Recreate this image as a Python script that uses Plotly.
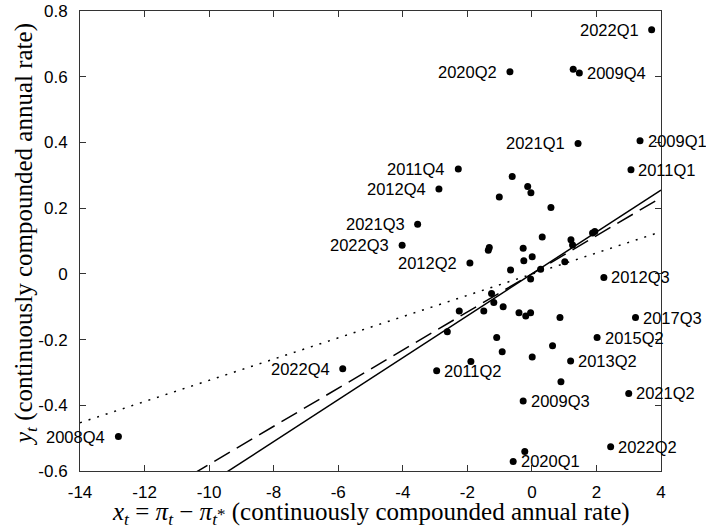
import plotly.graph_objects as go

# ---- data ----
x_vals = [3.71, -0.68, 1.28, 1.47, 1.43, 3.35, 3.07, -2.28, -2.88, -0.61,
          -0.13, -0.03, -1.01, 0.59, -3.54, 0.32, 1.21, 1.26, 1.88, 1.95,
          -4.02, -1.32, -1.35, -0.27, -1.92, -0.25, 0.01, -0.66, 0.27, 1.02,
          -0.04, 2.23, -1.25, -1.18, -2.25, -1.49, -0.89, -0.40, -0.19, -0.04,
          0.87, 3.21, -2.62, 2.02, -1.09, 0.64, -0.92, 0.01, 1.20, -1.89,
          -2.95, 0.90, 3.00, -0.27, 2.44, -0.22, -0.58, -5.86, -12.81]
y_vals = [0.743, 0.615, 0.623, 0.611, 0.397, 0.405, 0.317, 0.319, 0.258, 0.296,
          0.266, 0.247, 0.234, 0.202, 0.151, 0.112, 0.104, 0.088, 0.124, 0.129,
          0.087, 0.080, 0.072, 0.078, 0.033, 0.040, 0.052, 0.012, 0.014, 0.037,
          -0.016, -0.011, -0.060, -0.087, -0.113, -0.113, -0.100, -0.118, -0.128, -0.118,
          -0.133, -0.133, -0.176, -0.194, -0.194, -0.219, -0.237, -0.253, -0.265, -0.267,
          -0.295, -0.328, -0.364, -0.387, -0.526, -0.541, -0.571, -0.289, -0.495]
labels = ["2022Q1", "2020Q2", "", "2009Q4", "2021Q1", "2009Q1", "2011Q1", "2011Q4", "2012Q4", "",
          "", "", "", "", "2021Q3", "", "", "", "", "",
          "2022Q3", "", "", "", "2012Q2", "", "", "", "", "",
          "", "2012Q3", "", "", "", "", "", "", "", "",
          "", "2017Q3", "", "2015Q2", "", "", "", "", "2013Q2", "",
          "2011Q2", "", "2021Q2", "2009Q3", "2022Q2", "", "2020Q1", "2022Q4", "2008Q4"]
label_side = ["left", "left", "", "right", "left", "right", "right", "left", "left", "",
              "", "", "", "", "left", "", "", "", "", "",
              "left", "", "", "", "left", "", "", "", "", "",
              "", "right", "", "", "", "", "", "", "", "",
              "", "right", "", "right", "", "", "", "", "right", "",
              "right", "", "right", "right", "right", "", "right", "left", "left"]

# fitted lines: intercept, slope
line_names = ["solid", "dashed", "dotted"]
line_intercepts = [0.0, 0.0, -0.001]
line_slopes = [0.0638, 0.058, 0.0323]

x_ticks = [-14, -12, -10, -8, -6, -4, -2, 0, 2, 4]
x_ticklabels = ["-14", "-12", "-10", "-8", "-6", "-4", "-2", "0", "2", "4"]
y_ticks = [-0.6, -0.4, -0.2, 0, 0.2, 0.4, 0.6, 0.8]
y_ticklabels = ["-0.6", "-0.4", "-0.2", "0", "0.2", "0.4", "0.6", "0.8"]

x_title = ("<i>x</i><sub><i>t</i></sub> = <i>π</i><sub><i>t</i></sub> − "
           "<i>π</i><sub><i>t</i></sub><span style=\"font-size:17px\">*</span> "
           "(continuously compounded annual rate)")
y_title = "<i>y</i><sub><i>t</i></sub> (continuously compounded annual rate)"

x_range = [-14, 4]
y_range = [-0.6, 0.8]

fig = go.Figure()

dash_styles = {"solid": "solid", "dashed": "18px,8px", "dotted": "2px,7px"}
for name, a, b in zip(line_names, line_intercepts, line_slopes):
    xs = [x_range[0], x_range[1]]
    ys = [a + b * xv for xv in xs]
    fig.add_trace(go.Scatter(x=xs, y=ys, mode="lines",
                             line=dict(color="black", width=1.5, dash=dash_styles[name]),
                             hoverinfo="skip", showlegend=False))

fig.add_trace(go.Scatter(
    x=x_vals, y=y_vals, mode="markers",
    marker=dict(color="black", size=7), cliponaxis=False,
    showlegend=False))

label_font = dict(family="Liberation Sans, Arial, sans-serif", size=16.5, color="black")
for xv, yv, lab, side in zip(x_vals, y_vals, labels, label_side):
    if not lab:
        continue
    fig.add_annotation(x=xv, y=yv, xref="x", yref="y", text=lab, showarrow=False,
                       xanchor="right" if side == "left" else "left", yanchor="middle",
                       xshift=-11 if side == "left" else 5.5, yshift=0,
                       font=label_font)

title_font = dict(family="Liberation Serif, serif", size=25, color="black")
fig.add_annotation(text=x_title, xref="paper", yref="paper", x=0.5, y=-0.093,
                   xanchor="center", yanchor="middle", showarrow=False, font=title_font)
fig.add_annotation(text=y_title, xref="paper", yref="paper", x=-0.0947, y=0.515,
                   xanchor="center", yanchor="middle", textangle=-90, showarrow=False,
                   font=title_font)

axis_common = dict(showgrid=False, zeroline=False, showline=True, linecolor="#333",
                   linewidth=1, mirror="ticks", ticks="inside", ticklen=6,
                   tickcolor="#333", automargin=False,
                   tickfont=dict(family="Liberation Sans, Arial, sans-serif", size=17, color="black"))

fig.update_layout(
    width=706, height=531,
    margin=dict(l=80, r=45, t=11, b=60),
    paper_bgcolor="white", plot_bgcolor="white",
    xaxis=dict(range=x_range, tickvals=x_ticks, ticktext=x_ticklabels,
               ticklabelstandoff=6, **axis_common),
    yaxis=dict(range=y_range, tickvals=y_ticks, ticktext=y_ticklabels,
               ticklabelstandoff=8, **axis_common),
)

fig.write_html("out.html", config={"displayModeBar": False},
               post_script="document.body.style.margin='0';")
